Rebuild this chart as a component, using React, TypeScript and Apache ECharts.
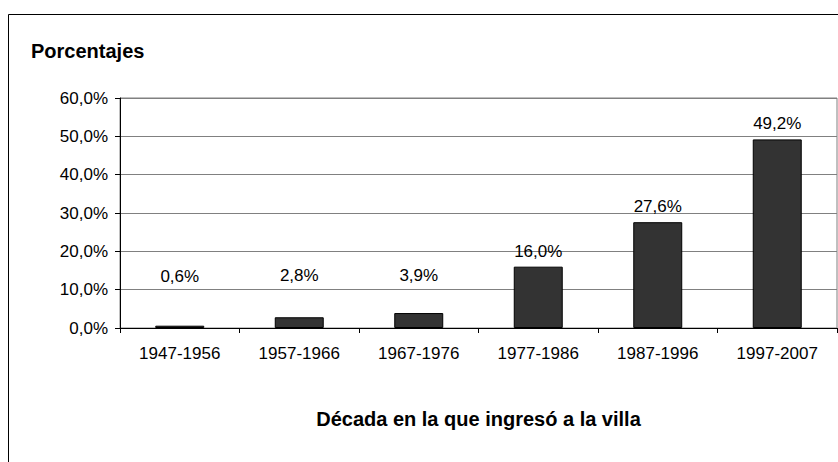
import React, { useEffect, useRef } from "react";
import * as echarts from "echarts";

const categories = ["1947-1956", "1957-1966", "1967-1976", "1977-1986", "1987-1996", "1997-2007"];
const values = [0.6, 2.8, 3.9, 16.0, 27.6, 49.2];
const labelOffsets = [-34, -26, -22, 0, 0, 0];
const yTicks = { min: 0, max: 60, interval: 10 };

const fmt = (v: number) => v.toFixed(1).replace(".", ",") + "%";

export default function App() {
  const ref = useRef<HTMLDivElement>(null);
  useEffect(() => {
    if (!ref.current) return;
    const chart = echarts.init(ref.current, undefined, { renderer: "svg" });
    const font = "'Liberation Sans', Arial, sans-serif";
    chart.setOption({
      animation: false,
      backgroundColor: "#ffffff",
      textStyle: { fontFamily: font },
      title: {
        text: "Porcentajes",
        left: 31,
        top: 41,
        padding: 0,
        textStyle: { fontFamily: font, fontSize: 20, fontWeight: "bold", color: "#000" },
      },
      graphic: [
        {
          type: "rect",
          shape: { x: 8.5, y: 14.5, width: 860, height: 480 },
          style: { fill: "none", stroke: "#000", lineWidth: 1 },
          silent: true,
        },
      ],
      grid: {
        left: 120,
        top: 98,
        right: 1,
        bottom: 134,
        show: true,
        borderColor: "#808080",
        borderWidth: 1,
        backgroundColor: "transparent",
      },
      xAxis: {
        type: "category",
        data: categories,
        name: "Década en la que ingresó a la villa",
        nameLocation: "middle",
        nameGap: 81,
        nameTextStyle: { fontFamily: font, fontSize: 20, fontWeight: "bold", color: "#000", verticalAlign: "top" },
        axisLine: { lineStyle: { color: "#000", width: 1 } },
        axisTick: { show: true, alignWithLabel: false, length: 5, lineStyle: { color: "#000" } },
        axisLabel: { color: "#000", fontSize: 17, margin: 17, fontFamily: font },
      },
      yAxis: {
        type: "value",
        min: yTicks.min,
        max: yTicks.max,
        interval: yTicks.interval,
        axisLine: { show: true, lineStyle: { color: "#000", width: 1 } },
        axisTick: { show: true, length: 5, lineStyle: { color: "#000" } },
        axisLabel: { color: "#000", fontSize: 17, margin: 12, fontFamily: font, formatter: (v: number) => fmt(v) },
        splitLine: { show: true, lineStyle: { color: "#808080", width: 1 } },
      },
      series: [
        {
          type: "bar",
          barWidth: "41%",
          data: values.map((v, i) => ({
            value: v,
            label: { offset: [0, labelOffsets[i]] },
          })),
          itemStyle: { color: "#333333", borderColor: "#000", borderWidth: 1 },
          label: {
            show: true,
            position: "top",
            distance: 7,
            color: "#000",
            fontSize: 17,
            fontFamily: font,
            formatter: (p: any) => fmt(p.value),
          },
        },
      ],
    });
    return () => chart.dispose();
  }, []);
  return (
    <div
      ref={ref}
      style={{ position: "fixed", left: 0, top: 0, width: 838, height: 462 }}
    />
  );
}
